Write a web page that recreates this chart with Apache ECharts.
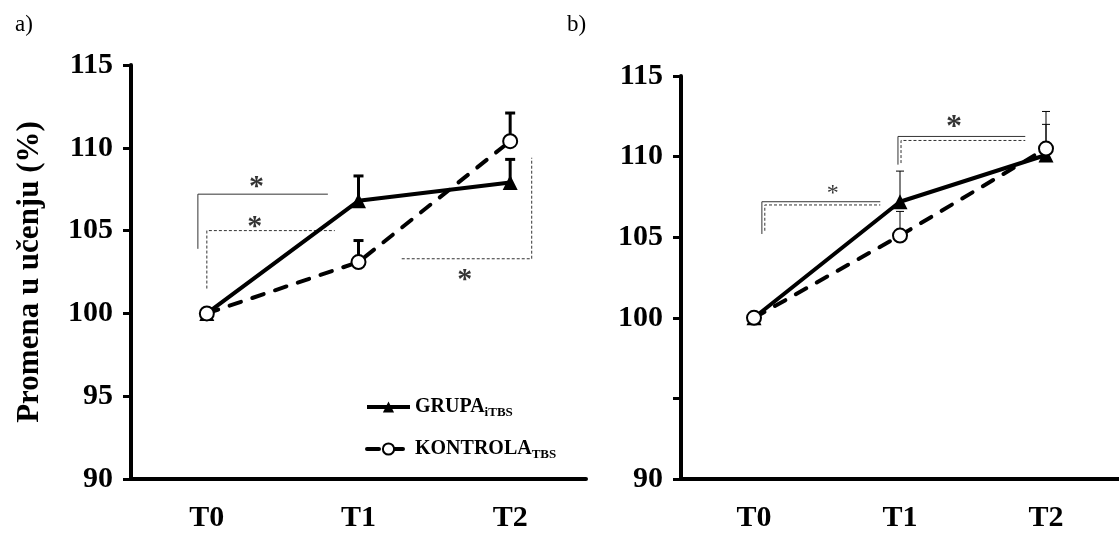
<!DOCTYPE html>
<html>
<head>
<meta charset="utf-8">
<script src="https://cdn.jsdelivr.net/npm/echarts@6/dist/echarts.min.js"></script>
<style>
  html, body { margin: 0; padding: 0; background: #fff; }
  #grafico { width: 1119px; height: 533px; }
</style>
</head>
<body>
<div id="grafico"></div>
<script>
// Dados
var kategorije = ['T0', 'T1', 'T2'];
var yTicks = [90, 95, 100, 105, 110, 115];

// panel a)
var grupaA = [100, 106.8, 107.9];
var grupaA_sd = [0, 1.5, 1.4];
var kontrolaA = [100, 103.1, 110.4];
var kontrolaA_sd = [0, 1.3, 1.7];

// panel b)
var grupaB = [100, 107.2, 110.1];
var grupaB_sd = [0, 1.9, 1.9];
var kontrolaB = [100, 105.1, 110.5];
var kontrolaB_sd = [0, 1.5, 2.3];

// oznake znacajnosti (x u jedinicama kategorija, y u %)
var zagradaA_puna = [[-0.059, 103.9], [-0.059, 107.2], [0.798, 107.2]];
var zagradaA_isp1 = [[0, 101.5], [0, 105.0], [0.844, 105.0]];
var zagradaA_isp2 = [[1.285, 103.3], [2.142, 103.3], [2.142, 109.4]];
var zvezdiceA = [[0.327, 108.0], [0.316, 105.6], [1.70, 102.4]];

var zagradaB1_puna = [[0.054, 105.2], [0.054, 107.2], [0.865, 107.2]];
var zagradaB1_isp = [[0.074, 105.4], [0.074, 107.0], [0.865, 107.0]];
var zagradaB2_puna = [[0.986, 109.5], [0.986, 111.25], [1.858, 111.25]];
var zagradaB2_isp = [[1.007, 109.6], [1.007, 111.0], [1.858, 111.0]];
var zvezdicaB_mala = [[0.54, 108.0]];
var zvezdicaB_velika = [[1.37, 112.2]];

var FONT = '"Liberation Serif", "Times New Roman", serif';

function greske(vals, sd) {
    return vals.map(function (v, i) { return [i, v, v + sd[i]]; }).filter(function (d, i) { return sd[i] > 0; });
}

function errorSerija(name, xi, yi, vals, sd, lw) {
    return {
        name: name + '_err',
        type: 'custom',
        xAxisIndex: xi,
        yAxisIndex: yi,
        z: 1,
        silent: true,
        data: greske(vals, sd),
        renderItem: function (params, api) {
            var c = api.coord([api.value(0), api.value(1)]);
            var t = api.coord([api.value(0), api.value(2)]);
            var st = { stroke: '#000', lineWidth: lw };
            var w = lw > 1 ? 5 : 4;
            return {
                type: 'group',
                children: [
                    { type: 'line', shape: { x1: c[0], y1: c[1], x2: t[0], y2: t[1] }, style: st },
                    { type: 'line', shape: { x1: t[0] - w, y1: t[1], x2: t[0] + w, y2: t[1] }, style: st }
                ]
            };
        }
    };
}

function zagrada(data, xi, yi, dashed) {
    return {
        type: 'line',
        xAxisIndex: xi,
        yAxisIndex: yi,
        data: data,
        symbol: 'none',
        silent: true,
        z: 0,
        lineStyle: { color: '#333', width: 1, type: dashed ? [3, 2] : 'solid' }
    };
}

function zvezdice(data, xi, yi, size, bold) {
    return {
        type: 'scatter',
        xAxisIndex: xi,
        yAxisIndex: yi,
        data: data,
        symbolSize: 2,
        silent: true,
        z: 5,
        itemStyle: { color: 'rgba(0,0,0,0)' },
        label: {
            show: true,
            position: 'inside',
            formatter: '*',
            fontFamily: FONT,
            fontSize: size,
            fontWeight: bold ? 'bold' : 'normal',
            color: '#000',
            offset: [0, size * 0.22]
        }
    };
}

function linija(name, xi, yi, vals, dashed) {
    return {
        name: name,
        type: 'line',
        xAxisIndex: xi,
        yAxisIndex: yi,
        data: vals,
        z: 3,
        symbol: dashed ? 'circle' : 'triangle',
        symbolSize: dashed ? 14 : 15,
        showAllSymbol: true,
        itemStyle: dashed ? { color: '#fff', borderColor: '#000', borderWidth: 2 } : { color: '#000' },
        lineStyle: { color: '#000', width: 4, type: dashed ? [12, 12] : 'solid', cap: dashed ? 'round' : 'butt' }
    };
}

var xKat = function (gi) {
    return {
        type: 'category',
        gridIndex: gi,
        data: kategorije,
        boundaryGap: true,
        axisLine: { onZero: false, lineStyle: { color: '#000', width: 4 } },
        axisTick: { show: false },
        axisLabel: { margin: 24, fontFamily: FONT, fontSize: 30, fontWeight: 'bold', color: '#000' }
    };
};
var xVal = function (gi) {
    return { type: 'value', gridIndex: gi, min: -0.5, max: 2.5, show: false };
};
var yOsa = function (gi, fmt) {
    return {
        type: 'value',
        gridIndex: gi,
        min: yTicks[0],
        max: yTicks[yTicks.length - 1],
        interval: 5,
        splitLine: { show: false },
        axisLine: { show: true, onZero: false, lineStyle: { color: '#000', width: 4 } },
        axisTick: { show: true, length: 8, lineStyle: { color: '#000', width: 3 } },
        axisLabel: { margin: 18, fontFamily: FONT, fontSize: 30, fontWeight: 'bold', color: '#000', formatter: fmt }
    };
};

var chartDom = document.getElementById('grafico');
var myChart = echarts.init(chartDom);

var yA = yOsa(0, function (v) { return String(v); });
yA.name = 'Promena u učenju (%)';
yA.nameLocation = 'middle';
yA.nameGap = 86;
yA.nameRotate = 90;
yA.nameTextStyle = { fontFamily: FONT, fontSize: 31, fontWeight: 'bold', color: '#000' };

var yB = yOsa(1, function (v) { return v === 95 ? '' : String(v); });

var indeksi = { GRUPA: 'iTBS', KONTROLA: 'TBS' };

var option = {
    animation: false,
    title: [
        { text: 'a)', left: 10, top: 8, textStyle: { fontFamily: FONT, fontSize: 23, fontWeight: 'normal', color: '#000' } },
        { text: 'b)', left: 562, top: 8, textStyle: { fontFamily: FONT, fontSize: 23, fontWeight: 'normal', color: '#000' } }
    ],
    legend: {
        data: ['GRUPA', 'KONTROLA'],
        orient: 'vertical',
        left: 360,
        top: 390,
        itemWidth: 43,
        itemHeight: 14,
        itemGap: 18,
        selectedMode: false,
        lineStyle: { width: 4 },
        formatter: function (name) { return name + '{sub|' + indeksi[name] + '}'; },
        textStyle: {
            fontFamily: FONT, fontSize: 20, fontWeight: 'bold', color: '#000', lineHeight: 24,
            rich: { sub: { fontFamily: FONT, fontSize: 13, fontWeight: 'bold', color: '#000', verticalAlign: 'bottom', lineHeight: 13, padding: [4, 0, 0, 0] } }
        }
    },
    grid: [
        { left: 131, top: 65, width: 455, height: 417 },
        { left: 681, top: 76, width: 444, height: 406 }
    ],
    xAxis: [xKat(0), xKat(1), xVal(0), xVal(1)],
    yAxis: [yA, yB],
    series: [
        zagrada(zagradaA_puna, 2, 0, false),
        zagrada(zagradaA_isp1, 2, 0, true),
        zagrada(zagradaA_isp2, 2, 0, true),
        zvezdice(zvezdiceA, 2, 0, 30, true),
        errorSerija('GRUPA', 0, 0, grupaA, grupaA_sd, 3),
        errorSerija('KONTROLA', 0, 0, kontrolaA, kontrolaA_sd, 3),
        linija('GRUPA', 0, 0, grupaA, false),
        linija('KONTROLA', 0, 0, kontrolaA, true),

        zagrada(zagradaB1_puna, 3, 1, false),
        zagrada(zagradaB1_isp, 3, 1, true),
        zagrada(zagradaB2_puna, 3, 1, false),
        zagrada(zagradaB2_isp, 3, 1, true),
        zvezdice(zvezdicaB_mala, 3, 1, 24, false),
        zvezdice(zvezdicaB_velika, 3, 1, 32, true),
        errorSerija('GRUPA', 1, 1, grupaB, grupaB_sd, 1),
        errorSerija('KONTROLA', 1, 1, kontrolaB, kontrolaB_sd, 1),
        linija('GRUPA', 1, 1, grupaB, false),
        linija('KONTROLA', 1, 1, kontrolaB, true)
    ]
};

option && myChart.setOption(option);
</script>
</body>
</html>
